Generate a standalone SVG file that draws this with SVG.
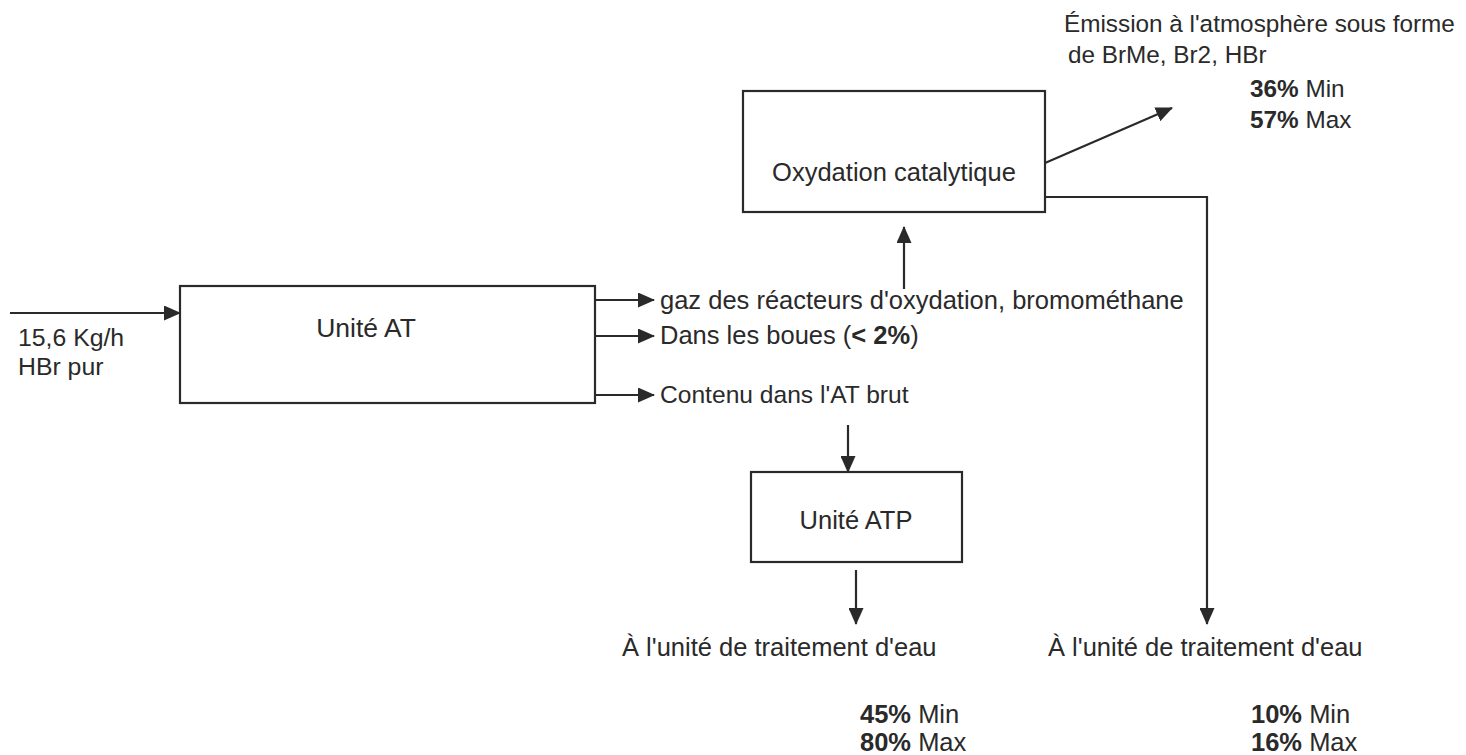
<svg xmlns="http://www.w3.org/2000/svg" width="1466" height="755" viewBox="0 0 1466 755">
<defs>
<marker id="ah" markerWidth="17" markerHeight="15" refX="16" refY="7.5" orient="auto" markerUnits="userSpaceOnUse">
<path d="M0,0 L17,7.5 L0,15 Z" fill="#2a2a2a"/>
</marker>
</defs>
<style>
text{font-family:"Liberation Sans",Arial,sans-serif;font-size:25.5px;fill:#2a2a2a}
.s{font-size:24.3px}
.b{font-weight:bold}
.box{fill:none;stroke:#2a2a2a;stroke-width:2.2}
.ln{fill:none;stroke:#2a2a2a;stroke-width:2.2}
</style>
<rect width="1466" height="755" fill="#fff"/>
<g id="unite-at">
<rect class="box" x="180" y="286" width="415" height="117"/>
<text x="366" y="337" text-anchor="middle" style="font-size:26.5px">Unité AT</text>
</g>
<g id="oxydation">
<rect class="box" x="743" y="91" width="302" height="121"/>
<text x="894" y="181" text-anchor="middle">Oxydation catalytique</text>
</g>
<g id="unite-atp">
<rect class="box" x="751" y="472" width="211" height="90"/>
<text x="856" y="529" text-anchor="middle">Unité ATP</text>
</g>
<g id="input-label">
<text x="18" y="346" style="font-size:24.8px">15,6 Kg/h</text>
<text x="18" y="375" style="font-size:24.8px">HBr pur</text>
</g>
<g id="labels">
<text x="660" y="309">gaz des réacteurs d'oxydation, bromométhane</text>
<text x="660" y="344">Dans les boues (<tspan class="b">&lt; 2%</tspan>)</text>
<text x="660" y="403" style="font-size:24.6px">Contenu dans l'AT brut</text>
<text class="s" x="1064" y="32">Émission à l'atmosphère sous forme</text>
<text class="s" x="1068" y="63">de BrMe, Br2, HBr</text>
<text class="s" x="1250" y="97"><tspan class="b">36%</tspan> Min</text>
<text class="s" x="1250" y="128"><tspan class="b">57%</tspan> Max</text>
<text x="622" y="656">À l'unité de traitement d'eau</text>
<text x="860" y="723"><tspan class="b">45%</tspan> Min</text>
<text x="860" y="751"><tspan class="b">80%</tspan> Max</text>
<text x="1048" y="656">À l'unité de traitement d'eau</text>
<text x="1251" y="723"><tspan class="b">10%</tspan> Min</text>
<text x="1251" y="751"><tspan class="b">16%</tspan> Max</text>
</g>
<g id="connectors">
<line class="ln" x1="10" y1="313" x2="180" y2="313" marker-end="url(#ah)"/>
<line class="ln" x1="595" y1="300" x2="654" y2="300" marker-end="url(#ah)"/>
<line class="ln" x1="595" y1="336" x2="654" y2="336" marker-end="url(#ah)"/>
<line class="ln" x1="595" y1="395" x2="654" y2="395" marker-end="url(#ah)"/>
<line class="ln" x1="904" y1="289" x2="904" y2="227" marker-end="url(#ah)"/>
<line class="ln" x1="1045" y1="163" x2="1172" y2="108" marker-end="url(#ah)"/>
<polyline class="ln" points="1045,197 1207,197 1207,624" marker-end="url(#ah)"/>
<line class="ln" x1="848" y1="425" x2="848" y2="472" marker-end="url(#ah)"/>
<line class="ln" x1="856" y1="570" x2="856" y2="624" marker-end="url(#ah)"/>
</g>
</svg>
